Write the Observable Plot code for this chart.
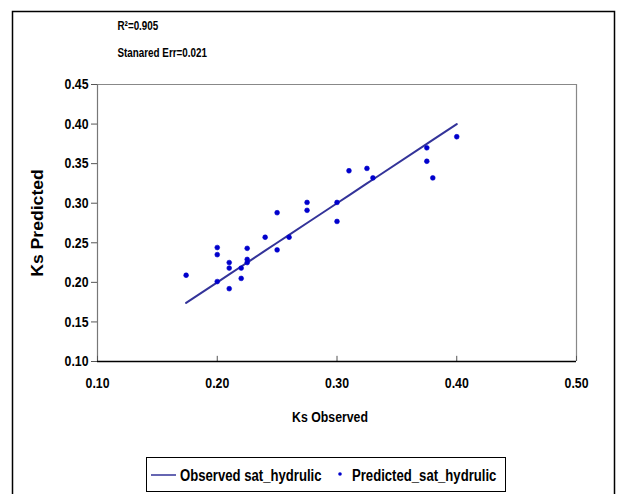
<!DOCTYPE html>
<html>
<head>
<meta charset="utf-8">
<script src="https://cdn.jsdelivr.net/npm/d3@7"></script>
<script src="https://cdn.jsdelivr.net/npm/@observablehq/plot@0.6"></script>
<style>
  html, body { margin: 0; padding: 0; background: #fff; }
  #chart { position: relative; width: 622px; height: 494px; }
</style>
</head>
<body>
<div id="chart"></div>
<script>
// Data
const observed  = [0.174, 0.20, 0.20, 0.20, 0.21, 0.21, 0.21, 0.22, 0.22, 0.225, 0.225, 0.225, 0.24, 0.25, 0.25, 0.26, 0.275, 0.275, 0.30, 0.30, 0.31, 0.325, 0.33, 0.375, 0.375, 0.38, 0.40];
const predicted = [0.209, 0.244, 0.235, 0.201, 0.225, 0.218, 0.192, 0.218, 0.205, 0.243, 0.229, 0.225, 0.257, 0.288, 0.241, 0.257, 0.301, 0.291, 0.301, 0.277, 0.341, 0.344, 0.332, 0.370, 0.353, 0.332, 0.384];
const xTicks = [0.10, 0.20, 0.30, 0.40, 0.50];
const yTicks = [0.10, 0.15, 0.20, 0.25, 0.30, 0.35, 0.40, 0.45];
const xLabel = "Ks Observed";
const yLabel = "Ks Predicted";
const statLines = ["R²=0.905", "Stanared Err=0.021"];
const seriesNames = ["Observed sat_hydrulic", "Predicted_sat_hydrulic"];

const rows = observed.map((o, i) => ({observed: o, predicted: predicted[i]}));
const lineRows = rows.slice().sort((a, b) => a.observed - b.observed);

const sans = "'Liberation Sans', Arial, sans-serif";
const fmt = d3.format(".2f");

const plot = Plot.plot({
  width: 622,
  height: 494,
  marginLeft: 97,
  marginRight: 46,
  marginTop: 84,
  marginBottom: 133,
  style: {fontFamily: sans, fontWeight: "bold", fontSize: "15px", color: "#000", background: "#fff"},
  x: {domain: [0.1, 0.5]},
  y: {domain: [0.1, 0.45]},
  marks: [
    Plot.ruleY([0.45], {stroke: "#888", strokeWidth: 1.2}),
    Plot.ruleX([0.5], {stroke: "#888", strokeWidth: 1.2}),
    Plot.ruleX([0.1], {stroke: "#777", strokeWidth: 1.2}),
    Plot.ruleX(xTicks, {x: d => d, y1: 0.1, y2: 0.1065, stroke: "#555", strokeWidth: 1}),
    Plot.axisY({ticks: yTicks, tickFormat: fmt, tickSize: 6, tickPadding: 3, label: null, stroke: "#555", fontSize: 15}),
    Plot.axisX({ticks: xTicks, tickFormat: fmt, tickSize: 0, tickPadding: 16, label: null, fontSize: 15}),
    Plot.ruleY([0.1], {stroke: "#000", strokeWidth: 1.4}),
    Plot.line(lineRows, {x: "observed", y: "observed", stroke: "#333399", strokeWidth: 2}),
    Plot.dot(rows, {x: "observed", y: "predicted", r: 2.4, fill: "#0000cc", stroke: "#0000cc", strokeWidth: 0.6}),
    Plot.text([yLabel], {frameAnchor: "left", textAnchor: "middle", dx: -60, rotate: -90, text: d => d, fontSize: 16, className: "wide"}),
    Plot.text([xLabel], {frameAnchor: "bottom", textAnchor: "middle", dx: -7, dy: 60, text: d => d, fontSize: 15}),
    Plot.text([statLines[0]], {frameAnchor: "top-left", dx: 20, dy: -63, text: d => d, textAnchor: "start", fontSize: 12}),
    Plot.text([statLines[1]], {frameAnchor: "top-left", dx: 20, dy: -36, text: d => d, textAnchor: "start", fontSize: 12})
  ]
});

document.getElementById("chart").appendChild(plot);

const svg = d3.select(plot);
svg.append("path")
  .attr("d", "M12.5,494 V11.5 H614.5 V494")
  .attr("fill", "none").attr("stroke", "#000").attr("stroke-width", 1.5);

const lg = svg.append("g").attr("font-family", sans).attr("font-weight", "bold").attr("font-size", 16).attr("text-anchor", "start");
lg.append("rect").attr("x", 146.5).attr("y", 457.5).attr("width", 359).attr("height", 34)
  .attr("fill", "#fff").attr("stroke", "#000").attr("stroke-width", 1);
lg.append("line").attr("x1", 151).attr("x2", 176).attr("y1", 475).attr("y2", 475)
  .attr("stroke", "#333399").attr("stroke-width", 1.5);
lg.append("text").attr("x", 180).attr("y", 481).text(seriesNames[0]);
lg.append("circle").attr("cx", 340).attr("cy", 474).attr("r", 1.8).attr("fill", "#0000cc");
lg.append("text").attr("x", 352).attr("y", 481).text(seriesNames[1]);

// Simulate the narrow (condensed) face of the original by compressing glyphs;
// the y-axis title uses a wider face in the original.
svg.selectAll("text").each(function() {
  const w = this.getComputedTextLength();
  if (!(w > 0)) return;
  const factor = this.closest(".wide") ? 1.1 : 0.82;
  this.setAttribute("textLength", (w * factor).toFixed(1));
  this.setAttribute("lengthAdjust", "spacingAndGlyphs");
});
</script>
</body>
</html>
